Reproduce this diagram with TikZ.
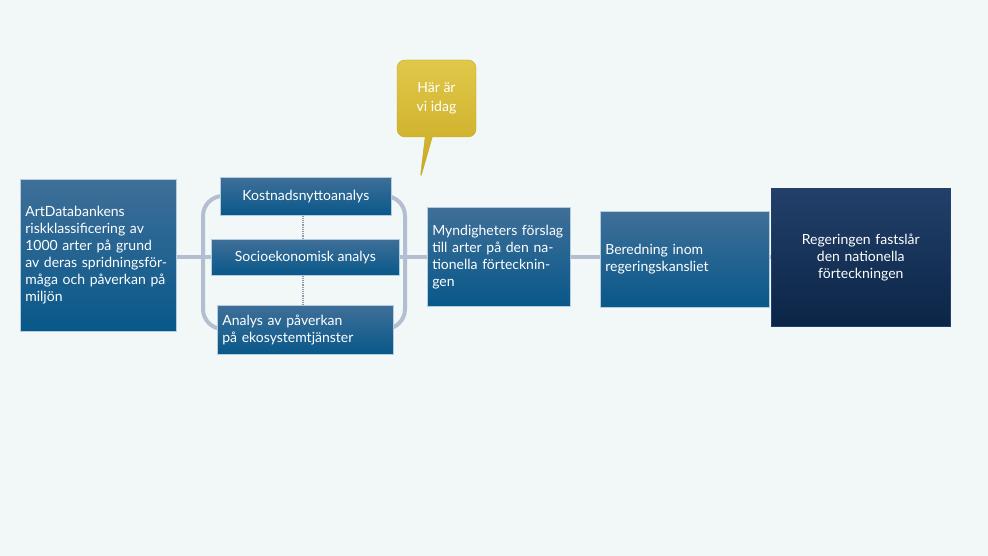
\documentclass[tikz,border=0pt]{standalone}
\usepackage{fontspec}
\setmainfont{Lato}
\usetikzlibrary{positioning,shapes.callouts}
\definecolor{bg}{HTML}{F2F7F8}
\definecolor{boxtop}{HTML}{3F6F98}
\definecolor{boxbot}{HTML}{08588A}
\definecolor{navytop}{HTML}{22406A}
\definecolor{navybot}{HTML}{0B2546}
\definecolor{linegray}{HTML}{B3BED0}
\definecolor{goldtop}{HTML}{E0C84A}
\definecolor{goldbot}{HTML}{C8A820}
\begin{document}
\begin{tikzpicture}[x=1pt,y=-1pt,
	box/.style={draw=white!70!boxbot, line width=0.6pt, top color=boxtop, bottom color=boxbot, text=white, font=\fontsize{14}{17}\selectfont, anchor=north west, inner sep=5pt},
	leftbox/.style={box, align=left},
	conn/.style={draw=linegray, line width=4pt}]
	% background
	\fill[bg] (0,0) rectangle (988,556);
	\useasboundingbox (0,0) rectangle (988,556);
	% main line and bracket
	\coordinate (lstart) at (176,257);
	\coordinate (lend) at (771,257);
	\draw[conn] (lstart) -- (lend);
	\draw[conn, rounded corners=20pt] (303,196) -- (203,196) -- (203,329) -- (405,329) -- (405,196) -- cycle;
	% nodes
	\node[leftbox, minimum width=156pt, minimum height=152pt, text width=146pt] (art) at (20,179)
		{\raisebox{0pt}{}ArtDatabankens riskklassificering av 1000 arter på grund av deras spridningsförmåga och påverkan på miljön};
	\node[box, minimum width=171pt, minimum height=38pt] (kost) at (220,177) {Kostnadsnyttoanalys};
	\node[box, minimum width=188pt, minimum height=36pt] (socio) at (211,239) {Socioekonomisk analys};
	\node[leftbox, minimum width=176pt, minimum height=49pt, text width=166pt] (paverkan) at (217,305) {Analys av påverkan\\på ekosystemtjänster};
	\node[leftbox, minimum width=143pt, minimum height=99pt, text width=133pt] (mynd) at (427,207) {Myndigheters förslag till arter på den nationella förteckningen};
	\node[leftbox, minimum width=169pt, minimum height=96pt, text width=159pt] (bered) at (600,211) {Beredning inom regeringskansliet};
	\node[box, top color=navytop, bottom color=navybot, draw=navytop, align=center, minimum width=179pt, minimum height=138pt, text width=169pt] (reg) at (771,188) {Regeringen fastslår\\den nationella\\förteckningen};
	% dotted links
	\draw[linegray!80!black, densely dotted, line width=1.2pt] (kost.south -| 303,0) -- (socio.north -| 303,0);
	\draw[linegray!80!black, densely dotted, line width=1.2pt] (socio.south -| 303,0) -- (paverkan.north -| 303,0);
	% callout
	\node[rectangle callout, rounded corners=8pt, top color=goldtop, bottom color=goldbot, draw=goldbot, minimum width=79pt, minimum height=77pt, text=white, align=center, font=\fontsize{14}{19}\selectfont, callout absolute pointer={(420,180)}] (idag) at (436.5,98.5) {Här är\\vi idag};
\end{tikzpicture}
\end{document}
